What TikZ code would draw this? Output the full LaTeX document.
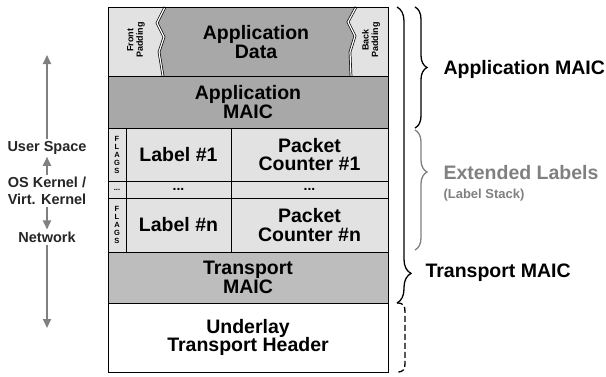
\documentclass[tikz,border=0pt]{standalone}
\usepackage{fontspec}
\setmainfont{Liberation Sans}
\usetikzlibrary{positioning, arrows.meta, decorations.pathreplacing}

\definecolor{lightcell}{HTML}{E2E2E2}
\definecolor{darkcell}{HTML}{A8A8A8}
\definecolor{midcell}{HTML}{BDBDBD}
\definecolor{arrowgray}{HTML}{808080}

\begin{document}
\begin{tikzpicture}[x=1pt, y=-1pt,
    cell/.style={draw, line width=0.8pt, anchor=north west, inner sep=0pt, outer sep=0pt, align=center, font=\bfseries\fontsize{19.5}{18.5}\selectfont},
    celltext/.style={align=center, font=\bfseries\fontsize{19.5}{18.5}\selectfont},
    padtext/.style={align=center, rotate=90, font=\bfseries\fontsize{9}{9.5}\selectfont},
    flags/.style={font=\bfseries\fontsize{7.5}{8}\selectfont},
    tear/.style={draw=black, line width=0.7pt, double=white, double distance=1.2pt},
    brace/.style={decorate, decoration={brace, amplitude=12pt}, line width=1.3pt},
    sidelabel/.style={anchor=west, align=left, font=\bfseries\fontsize{19.5}{19}\selectfont},
    layer/.style={align=center, inner sep=2pt, text=black!85, font=\bfseries\fontsize{14.5}{17}\selectfont},
    updown/.style={-{Triangle[width=8pt, length=9pt]}, line width=2pt, draw=arrowgray}
    ]
    \useasboundingbox (0,0) rectangle (606,376);

    % packet layout
    \node[cell, fill=lightcell, minimum width=280, minimum height=69] (datarow) at (108,7) {};
    \fill[darkcell] (165,7) -- (157,23) -- (164,37) -- (159,52) -- (163,76) -- (351,76) -- (350,52) -- (355,36) -- (348,22) -- (356,7) -- cycle;
    \draw[tear] (165,7) -- (157,23) -- (164,37) -- (159,52) -- (163,76);
    \draw[tear] (356,7) -- (348,22) -- (355,36) -- (350,52) -- (351,76);
    \draw[line width=0.8pt] (datarow.north west) rectangle (datarow.south east);
    \node[celltext] (appdata) at (256,42) {Application\\Data};
    \node[padtext] (frontpad) at (136,40) {Front\\Padding};
    \node[padtext] (backpad) at (371,40) {Back\\Padding};

    \node[cell, fill=darkcell, minimum width=280, minimum height=52] (appmaic) at (108,76) {Application\\MAIC};

    \node[cell, fill=lightcell, minimum width=18, minimum height=53, flags] (flags1) at (108,128) {F\\L\\A\\G\\S};
    \node[cell, fill=lightcell, minimum width=105, minimum height=53, anchor=west, right=0pt of flags1] (label1) {Label \#1};
    \node[cell, fill=lightcell, minimum width=157, minimum height=53, anchor=west, right=0pt of label1] (counter1) {Packet\\Counter \#1};

    \node[cell, fill=lightcell, minimum width=18, minimum height=17, flags] (flagsdots) at (108,181) {...};
    \node[cell, fill=lightcell, minimum width=105, minimum height=17, right=0pt of flagsdots, font=\bfseries\fontsize{14}{14}\selectfont] (labeldots) {...};
    \node[cell, fill=lightcell, minimum width=157, minimum height=17, right=0pt of labeldots, font=\bfseries\fontsize{14}{14}\selectfont] (counterdots) {...};

    \node[cell, fill=lightcell, minimum width=18, minimum height=54, flags] (flagsn) at (108,198) {F\\L\\A\\G\\S};
    \node[cell, fill=lightcell, minimum width=105, minimum height=54, right=0pt of flagsn] (labeln) {Label \#n};
    \node[cell, fill=lightcell, minimum width=157, minimum height=54, right=0pt of labeln] (countern) {Packet\\Counter \#n};

    \node[cell, fill=midcell, minimum width=280, minimum height=51] (transport) at (108,252) {Transport\\MAIC};
    \node[cell, fill=white, minimum width=280, minimum height=69] (underlay) at (108,303) {Underlay\\Transport Header};

    % braces
    \draw[brace] ([xshift=27]datarow.north east) -- ([xshift=27]appmaic.south east);
    \draw[brace, draw=arrowgray, decoration={aspect=0.35}] ([xshift=27, yshift=-2]counter1.north east) -- ([xshift=27, yshift=2]countern.south east);
    \draw[brace, decoration={amplitude=14pt, aspect=0.9}] ([xshift=9]datarow.north east) -- ([xshift=9]transport.south east);
    \draw[line width=1.3pt, dash pattern=on 6pt off 3pt] ([xshift=9]transport.south east) .. controls +(7,0) and +(0,-6) .. ([xshift=17, yshift=-9]transport.south east) -- ([xshift=17, yshift=9]underlay.south east) .. controls +(0,6) and +(7,0) .. ([xshift=9]underlay.south east);

    \node[sidelabel] (applabel) at (440,69) {Application MAIC};
    \node[sidelabel, text=arrowgray] (extlabel) at (440,183) {Extended Labels\\{\fontsize{13}{13}\selectfont (Label Stack)}};
    \node[sidelabel] (translabel) at (422,273) {Transport MAIC};

    % layers
    \node[layer] (user) at (47,148) {User Space};
    \node[layer] (oskernel) at (47,191) {OS Kernel /\\Virt. Kernel};
    \node[layer] (network) at (47,237) {Network};
    \coordinate (uptip) at (47,55);
    \coordinate (downtip) at (47,328);
    \draw[updown] (user) -- (uptip);
    \draw[updown] (oskernel) -- (user);
    \draw[updown] (oskernel) -- (network);
    \draw[updown] (network) -- (downtip);
\end{tikzpicture}
\end{document}
